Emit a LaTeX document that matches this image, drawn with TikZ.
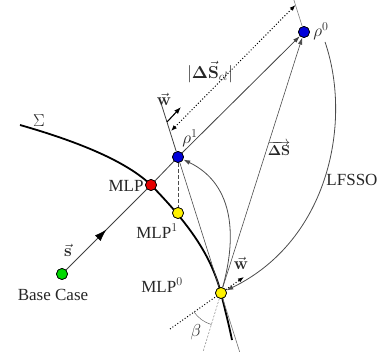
\documentclass[tikz,border=0pt]{standalone}
\usepackage[no-math]{fontspec}
\setmainfont{Liberation Serif}
\usetikzlibrary{arrows.meta,decorations.markings,calc}
\tikzset{
  dot/.style={circle,draw=black,line width=0.7pt,inner sep=0pt,minimum size=11pt},
  lbl/.style={font=\fontsize{17}{20}\selectfont,inner sep=0pt,text=black!85},
  thinline/.style={draw=black!70,line width=0.6pt},
  mainline/.style={draw=black!75,line width=0.8pt},
  tip/.style={-{Latex[length=7pt,width=4.5pt]}},
  sigma/.style={draw=black,line width=1.8pt},
}
\begin{document}
\begin{tikzpicture}[x=1pt,y=-1pt]
\useasboundingbox (0,0) rectangle (380,352);
% coordinates
\coordinate (wtop) at (161.6,105);
\coordinate (wbot) at (239.7,352);
\coordinate (r0top) at (293.9,0);
\coordinate (d1) at (171,131);
\coordinate (d2) at (295.5,5);
\coordinate (wa1) at (167,122);
\coordinate (wa2) at (181,107);
\coordinate (lf0) at (325,42);
\coordinate (dl) at (170,329);
\coordinate (wa) at (244,277);
\coordinate (db) at (203,352);
\coordinate (sig0) at (20,125);
\coordinate (sig1) at (232,340);
% dots
\node[dot,fill=green!85!black] (base) at (62,274) {};
\node[dot,fill=red!90!black] (mlp) at (151,185) {};
\node[dot,fill=blue!85!black] (rho1) at (178,157) {};
\node[dot,fill=blue!85!black] (rho0) at (304,32) {};
\node[dot,fill=yellow] (mlp1) at (178,213) {};
\node[dot,fill=yellow] (mlp0) at (221,293) {};
% Sigma curve
\draw[sigma] (sig0) .. controls (90,145) and (130,165) .. (mlp.center)
  .. controls (195,230) and (212,260) .. (mlp0.center)
  .. controls (225,310) and (229,325) .. (sig1);
% lines
\draw[mainline,postaction={decorate},decoration={markings,mark=at position 0.5 with {\arrow[black]{Latex[length=12pt,width=8pt]}}}] (base) -- (mlp);
\draw[mainline] (mlp) -- (rho1);
\draw[mainline,tip] (rho1) -- (rho0);
\draw[mainline] (wtop) -- (rho1);
\draw[thinline] (rho1) -- (mlp0);
\draw[thinline,draw=black!55] (mlp0) -- (wbot);
\draw[thinline,draw=black!50] (r0top) -- (rho0);
\draw[thinline,dashed,dash pattern=on 4pt off 2pt] (rho1) -- (mlp1);
\draw[thinline,tip] (mlp0) -- (rho0);
\draw[black,line width=1pt,dotted,{Latex[length=6pt,width=4.5pt]}-{Latex[length=6pt,width=4.5pt]}] (d1) -- (d2);
\draw[black,line width=1.1pt,-{Latex[length=7pt,width=5pt]}] (wa1) -- (wa2);
\draw[thinline,line width=0.8pt,tip] (mlp0) .. controls (236,240) and (236,185) .. (rho1);
\draw[thinline,line width=0.8pt,tip] (lf0) .. controls (352,120) and (330,240) .. (mlp0);
\draw[black,line width=1pt,dotted] (dl) -- (mlp0);
\draw[black,line width=1pt,dotted,-{Latex[length=6pt,width=4.5pt]}] (mlp0) -- (wa);
\draw[draw=black!50,line width=0.5pt,dash pattern=on 2pt off 1.5pt] (mlp0) -- (db);
\draw[draw=black!60,line width=0.5pt] ($(mlp0)+(145:33)$) arc[start angle=145,end angle=107,radius=33];
% redraw dots on top
\foreach \n/\c in {base/green!85!black,mlp/red!90!black,rho1/blue!85!black,rho0/blue!85!black,mlp1/yellow,mlp0/yellow}
  \fill[\c,draw=black,line width=0.7pt] (\n.center) circle (5.5pt);
% labels
\node[lbl] (lsig) at (39,121) {$\Sigma$};
\node[lbl] (lmlp) at (126,186) {MLP};
\node[lbl] (lmlp1) at (157,231) {MLP$^1$};
\node[lbl] (lmlp0) at (162,285) {MLP$^0$};
\node[lbl] (lbase) at (53,295) {Base Case};
\node[lbl] (ls) at (68,250) {$\vec{\mathbf s}$};
\node[lbl] (lw1) at (164,99) {$\vec{\mathbf w}$};
\node[lbl] (lw2) at (241,263) {$\vec{\mathbf w}$};
\node[lbl] (lr1) at (190,138) {$\rho^1$};
\node[lbl] (lr0) at (321,31) {$\rho^0$};
\node[lbl,font=\fontsize{15}{17}\selectfont] (lds) at (279,148) {$\overrightarrow{\mathbf{\Delta S}}$};
\node[lbl] (llf) at (352,180) {LFSSO};
\node[lbl] (lbeta) at (196,332) {$\beta$};
\node[lbl] (ldscl) at (210,72) {$|\mathbf{\Delta}\vec{\mathbf S}_{cl}|$};
\end{tikzpicture}
\end{document}
